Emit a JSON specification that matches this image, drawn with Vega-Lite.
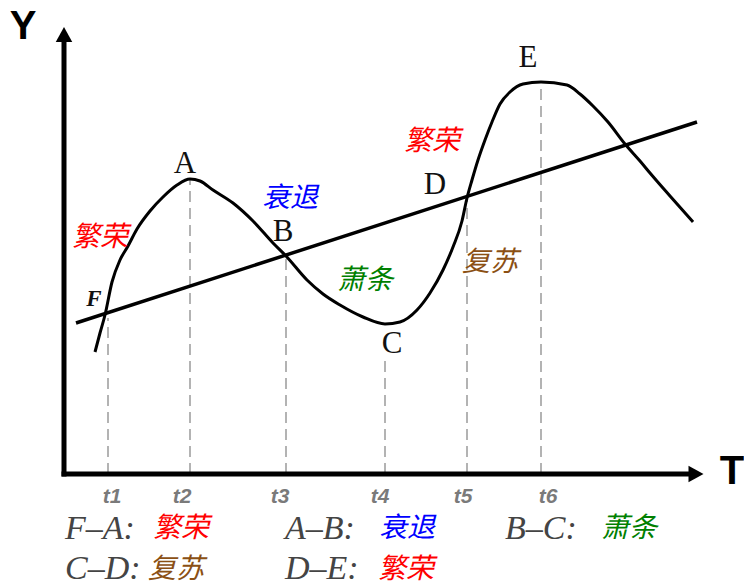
{
  "$schema": "https://vega.github.io/schema/vega-lite/v6.json",
  "width": 744,
  "height": 588,
  "autosize": {"type": "none"},
  "padding": 0,
  "background": "white",
  "config": {"view": {"stroke": null}},
  "datasets": {
    "curve": [
      {"x": 31, "y": 122}, {"x": 36, "y": 141}, {"x": 41, "y": 159}, {"x": 48, "y": 192},
      {"x": 56, "y": 214}, {"x": 64, "y": 228}, {"x": 73, "y": 245}, {"x": 86, "y": 263},
      {"x": 99, "y": 277}, {"x": 113, "y": 289}, {"x": 126, "y": 295}, {"x": 136, "y": 293},
      {"x": 149, "y": 284}, {"x": 169, "y": 271}, {"x": 189, "y": 253}, {"x": 209, "y": 231},
      {"x": 222, "y": 218}, {"x": 243, "y": 194}, {"x": 259, "y": 180}, {"x": 276, "y": 169},
      {"x": 299, "y": 157}, {"x": 321, "y": 150}, {"x": 336, "y": 152}, {"x": 353, "y": 164},
      {"x": 366, "y": 181}, {"x": 379, "y": 204}, {"x": 389, "y": 227}, {"x": 398, "y": 253},
      {"x": 403, "y": 276}, {"x": 408, "y": 294}, {"x": 414, "y": 314}, {"x": 421, "y": 334},
      {"x": 428, "y": 352}, {"x": 436, "y": 370}, {"x": 446, "y": 382}, {"x": 459, "y": 390},
      {"x": 477, "y": 392}, {"x": 503, "y": 389}, {"x": 516, "y": 380}, {"x": 529, "y": 368},
      {"x": 544, "y": 352}, {"x": 561, "y": 330}, {"x": 576, "y": 313}, {"x": 586, "y": 301},
      {"x": 606, "y": 278}, {"x": 629, "y": 252}
    ],
    "trend": [{"x": 12, "y": 151}, {"x": 633, "y": 352}],
    "guides": [
      {"t": "t1", "x": 44, "y": 0, "y2": 156},
      {"t": "t2", "x": 126, "y": 0, "y2": 294},
      {"t": "t3", "x": 222, "y": 0, "y2": 219},
      {"t": "t4", "x": 321, "y": 0, "y2": 118},
      {"t": "t5", "x": 403, "y": 0, "y2": 277},
      {"t": "t6", "x": 477, "y": 0, "y2": 391}
    ],
    "axes": [
      {"x": 0, "y": 0, "x2": 0, "y2": 432},
      {"x": 0, "y": 0, "x2": 625, "y2": 0}
    ],
    "arrows": [
      {"dir": "up", "x": 0, "y": 439.5},
      {"dir": "right", "x": 632, "y": 0}
    ],
    "axisLabels": [
      {"label": "Y", "x": -41, "y": 447},
      {"label": "T", "x": 668, "y": 2}
    ],
    "points": [
      {"label": "A", "x": 121, "y": 310},
      {"label": "B", "x": 219, "y": 242},
      {"label": "C", "x": 328, "y": 130},
      {"label": "D", "x": 371, "y": 289},
      {"label": "E", "x": 464, "y": 416}
    ],
    "fpoint": [{"label": "F", "x": 30, "y": 175}],
    "phases": [
      {"phase": "繁荣", "x": 36, "y": 236},
      {"phase": "衰退", "x": 226, "y": 275},
      {"phase": "萧条", "x": 301, "y": 193},
      {"phase": "复苏", "x": 426, "y": 211},
      {"phase": "繁荣", "x": 368, "y": 332}
    ],
    "ticks": [
      {"label": "t1", "x": 48, "y": -23},
      {"label": "t2", "x": 118, "y": -23},
      {"label": "t3", "x": 216, "y": -23},
      {"label": "t4", "x": 316, "y": -23},
      {"label": "t5", "x": 399, "y": -23},
      {"label": "t6", "x": 484, "y": -23}
    ],
    "legendKeys": [
      {"label": "F–A:", "x": 1, "y": -55},
      {"label": "A–B:", "x": 221, "y": -55},
      {"label": "B–C:", "x": 441, "y": -55},
      {"label": "C–D:", "x": 1, "y": -95},
      {"label": "D–E:", "x": 221, "y": -95}
    ],
    "legendWords": [
      {"phase": "繁荣", "x": 117, "y": -55},
      {"phase": "衰退", "x": 343, "y": -55},
      {"phase": "萧条", "x": 565, "y": -55},
      {"phase": "复苏", "x": 112, "y": -96},
      {"phase": "繁荣", "x": 342, "y": -96}
    ]
  },
  "encoding": {
    "x": {"field": "x", "type": "quantitative", "scale": {"domain": [-64, 680], "nice": false, "zero": false}, "axis": null},
    "y": {"field": "y", "type": "quantitative", "scale": {"domain": [-114, 474], "nice": false, "zero": false}, "axis": null}
  },
  "layer": [
    {
      "data": {"name": "guides"},
      "mark": {"type": "rule", "color": "#9a9a9a", "strokeWidth": 1.5, "strokeDash": [11, 6]},
      "encoding": {"y2": {"field": "y2"}}
    },
    {
      "data": {"name": "trend"},
      "mark": {"type": "line", "color": "black", "strokeWidth": 3.5},
      "encoding": {}
    },
    {
      "data": {"name": "curve"},
      "mark": {"type": "line", "color": "black", "strokeWidth": 3, "interpolate": "monotone"},
      "encoding": {}
    },
    {
      "data": {"name": "axes"},
      "mark": {"type": "rule", "color": "black", "strokeWidth": 5, "strokeCap": "square"},
      "encoding": {"x2": {"field": "x2"}, "y2": {"field": "y2"}}
    },
    {
      "data": {"name": "arrows"},
      "mark": {"type": "point", "filled": true, "color": "black", "size": 225, "opacity": 1},
      "encoding": {
        "shape": {"field": "dir", "type": "nominal", "scale": {"domain": ["up", "right"], "range": ["M0,-1L1.1,1L-1.1,1Z", "M1,0L-1,-1.1L-1,1.1Z"]}, "legend": null}
      }
    },
    {
      "data": {"name": "axisLabels"},
      "mark": {"type": "text", "font": "Liberation Sans", "fontWeight": "bold", "fontSize": 40, "color": "black", "align": "center", "baseline": "middle"},
      "encoding": {"text": {"field": "label"}}
    },
    {
      "data": {"name": "points"},
      "mark": {"type": "text", "font": "Liberation Serif", "fontSize": 31, "color": "#111", "align": "center", "baseline": "middle"},
      "encoding": {"text": {"field": "label"}}
    },
    {
      "data": {"name": "fpoint"},
      "mark": {"type": "text", "font": "Liberation Serif", "fontStyle": "italic", "fontWeight": "bold", "fontSize": 23, "color": "#111", "align": "center", "baseline": "middle"},
      "encoding": {"text": {"field": "label"}}
    },
    {
      "data": {"name": "phases"},
      "mark": {"type": "text", "font": "Noto Sans CJK SC", "fontStyle": "italic", "fontSize": 28, "align": "center", "baseline": "middle"},
      "encoding": {
        "text": {"field": "phase"},
        "color": {"field": "phase", "type": "nominal", "scale": {"domain": ["繁荣", "衰退", "萧条", "复苏"], "range": ["#ff0000", "#0000ff", "#008000", "#8b5014"]}, "legend": null}
      }
    },
    {
      "data": {"name": "ticks"},
      "mark": {"type": "text", "font": "Liberation Sans", "fontStyle": "italic", "fontWeight": "bold", "fontSize": 21, "color": "#7a7a7a", "align": "center", "baseline": "middle"},
      "encoding": {"text": {"field": "label"}}
    },
    {
      "data": {"name": "legendKeys"},
      "mark": {"type": "text", "font": "Liberation Serif", "fontStyle": "italic", "fontSize": 34, "color": "#444", "align": "left", "baseline": "middle"},
      "encoding": {"text": {"field": "label"}}
    },
    {
      "data": {"name": "legendWords"},
      "mark": {"type": "text", "font": "Noto Sans CJK SC", "fontStyle": "italic", "fontSize": 28, "align": "center", "baseline": "middle"},
      "encoding": {
        "text": {"field": "phase"},
        "color": {"field": "phase", "type": "nominal", "scale": {"domain": ["繁荣", "衰退", "萧条", "复苏"], "range": ["#ff0000", "#0000ff", "#008000", "#8b5014"]}, "legend": null}
      }
    }
  ]
}
